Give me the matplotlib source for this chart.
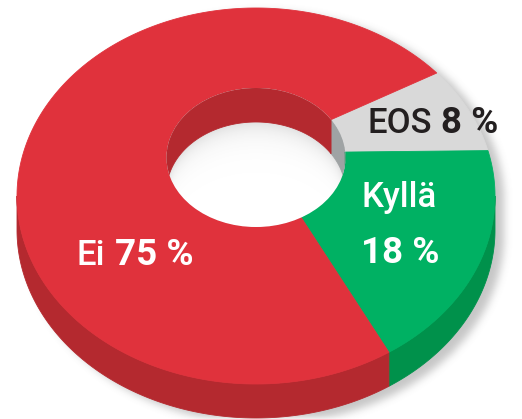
import numpy as np
import matplotlib
matplotlib.use("Agg")
import matplotlib.pyplot as plt
from matplotlib.patches import Polygon, Ellipse

# survey answers
labels = ["EOS", "Kyllä", "Ei"]
values = [8, 18, 75]
pct_text = ["8 %", "18 %", "75 %"]

top_colors = ["#d9d9d9", "#00b163", "#e0323c"]
side_colors = ["#a2a6a7", "#00914b", "#b4292f"]
wall_colors = ["#9fa3a4", "#00914b", "#b4292f"]

W, H = 522, 419
# outer rim (top face) and hole, in pixel units
CX, CY, A, B = 256, 196, 239, 188
HX, HY, HA, HB = 256, 157.5, 89.5, 69.5
DEPTH = 34
OUTER_START = 31   # angle of first slice edge on the rim
OUTER_SKEW = 11.5  # fake perspective: near side of rim looks wider
INNER_START = 33   # same edge on the hole


def skewed(t, skew):
    return t + skew * np.cos(np.radians(t))


def unskew(s, skew):
    # invert skewed() on a fine grid (monotonic)
    grid = np.linspace(-400, 400, 80001)
    return float(np.interp(s, skewed(grid, skew), grid))


def arc(cx, cy, a, b, t0, t1, dy=0, skew=0.0, n=240):
    t = np.radians(skewed(np.linspace(t0, t1, n), skew))
    return np.column_stack([cx + a * np.cos(t), cy - b * np.sin(t) + dy])


def overlap(t0, t1, lo, hi):
    out = []
    for k in range(-2, 3):
        l, h = max(t0, lo + 360 * k), min(t1, hi + 360 * k)
        if h > l:
            out.append((l, h))
    return out


vals = np.array(values, dtype=float)
spans = vals / vals.sum() * 360
cum = np.concatenate([[0], np.cumsum(spans)])
outer_rng = [(OUTER_START - cum[i + 1], OUTER_START - cum[i]) for i in range(len(vals))]
inner_rng = [(INNER_START - cum[i + 1], INNER_START - cum[i]) for i in range(len(vals))]

fig = plt.figure(figsize=(W / 100, H / 100), dpi=100)
ax = fig.add_axes([0, 0, 1, 1])
ax.set_xlim(0, W)
ax.set_ylim(H, 0)
ax.axis("off")

# soft drop shadow
yy, xx = np.mgrid[0:H, 0:W] + 0.5
u = (xx - CX - 9) / A
inside = np.abs(u) <= 1
half = B * np.sqrt(np.clip(1 - u ** 2, 0, 1))
mask = inside & (yy >= CY + 5 - half) & (yy <= CY + 6 + DEPTH + half)
sh = mask.astype(float)
ker = np.ones(7) / 7
for _ in range(4):
    sh = np.apply_along_axis(lambda r: np.convolve(r, ker, mode="same"), 1, sh)
    sh = np.apply_along_axis(lambda c: np.convolve(c, ker, mode="same"), 0, sh)
img = np.zeros((H, W, 4))
img[..., :3] = 0.45
img[..., 3] = sh * 0.4
ax.imshow(img, extent=[0, W, H, 0], zorder=0, interpolation="bilinear")

# outer side walls (front half of the rim on screen)
front_lo = unskew(-180, OUTER_SKEW)
front_hi = unskew(0, OUTER_SKEW)
for i in range(len(vals)):
    t0, t1 = outer_rng[i]
    for l, h in overlap(t0, t1, front_lo, front_hi):
        top = arc(CX, CY, A, B, l, h, skew=OUTER_SKEW)
        bot = arc(CX, CY, A, B, h, l, dy=DEPTH, skew=OUTER_SKEW)
        ax.add_patch(Polygon(np.vstack([top, bot]), closed=True,
                             facecolor=side_colors[i], edgecolor=side_colors[i],
                             lw=0.6, zorder=1))

# top faces
for i in range(len(vals)):
    o0, o1 = outer_rng[i]
    i0, i1 = inner_rng[i]
    pts = np.vstack([arc(CX, CY, A, B, o0, o1, skew=OUTER_SKEW),
                     arc(HX, HY, HA, HB, i1, i0)])
    ax.add_patch(Polygon(pts, closed=True, facecolor=top_colors[i],
                         edgecolor=top_colors[i], lw=0.6, zorder=2))

# hole
hole = Ellipse((HX, HY), 2 * HA, 2 * HB, facecolor="white", edgecolor="none", zorder=3)
ax.add_patch(hole)

# soft shading inside the hole below the far wall
uh = np.clip((xx - HX) / HA, -1, 1)
edge = HY + DEPTH - HB * np.sqrt(1 - uh ** 2)
d = np.clip(yy - edge, 0, None)
g = np.zeros((H, W, 4))
g[..., :3] = 0.55
g[..., 3] = 0.28 * np.exp(-d / 12)
gi = ax.imshow(g, extent=[0, W, H, 0], zorder=4, interpolation="bilinear")
gi.set_clip_path(hole)

# inner wall (far half of the hole)
for i in range(len(vals)):
    t0, t1 = inner_rng[i]
    for l, h in overlap(t0, t1, 0, 180):
        top = arc(HX, HY, HA, HB, l, h)
        bot = arc(HX, HY, HA, HB, h, l, dy=DEPTH)
        p = Polygon(np.vstack([top, bot]), closed=True, facecolor=wall_colors[i],
                    edgecolor=wall_colors[i], lw=0.6, zorder=5)
        ax.add_patch(p)
        p.set_clip_path(hole)

# labels
fam = ["Roboto", "DejaVu Sans"]
fs, fsb = 25, 26.5
ax.text(432, 133, labels[0], ha="right", va="baseline", color="#231f20",
        fontsize=fs, fontweight="medium", family=fam, zorder=6)
ax.text(441, 133, pct_text[0], ha="left", va="baseline", color="#231f20",
        fontsize=fsb, fontweight="bold", family=fam, zorder=6)
ax.text(361, 207, labels[1], ha="left", va="baseline", color="white",
        fontsize=fs, fontweight="medium", family=fam, zorder=6)
ax.text(361, 263, pct_text[1], ha="left", va="baseline", color="white",
        fontsize=fsb, fontweight="bold", family=fam, zorder=6)
ax.text(105, 265, labels[2], ha="right", va="baseline", color="white",
        fontsize=fs, fontweight="medium", family=fam, zorder=6)
ax.text(115, 265, pct_text[2], ha="left", va="baseline", color="white",
        fontsize=fsb, fontweight="bold", family=fam, zorder=6)

fig.savefig("out.png", dpi=100)
